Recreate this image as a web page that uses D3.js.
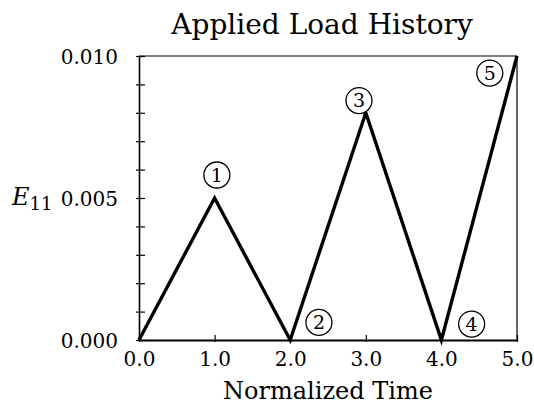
<!DOCTYPE html>
<html>
<head>
<meta charset="utf-8">
<script src="https://cdn.jsdelivr.net/npm/d3@7"></script>
<style>
  body { margin: 0; background: #fff; }
  svg text { font-family: "DejaVu Serif", "Liberation Serif", serif; fill: #000; }
</style>
</head>
<body>
<div id="chart"></div>
<script>
// load history data
const timeValues = [0, 1, 2, 3, 4, 5];
const strainValues = [0, 0.005, 0, 0.008, 0, 0.010];
const xTickValues = [0, 1, 2, 3, 4, 5];
const yTickValues = [0, 0.001, 0.002, 0.003, 0.004, 0.005, 0.006, 0.007, 0.008, 0.009, 0.010];
const yLabelValues = [0, 0.005, 0.010];
const markerNames = ["1", "2", "3", "4", "5"];
const markerTimes = [1.03, 2.38, 2.91, 4.40, 4.64];
const markerStrains = [0.00581, 0.00062, 0.00843, 0.00056, 0.0094];

const W = 534, H = 407;
const margin = { top: 56, right: 17, bottom: 67, left: 139 };
const width = W - margin.left - margin.right;
const height = H - margin.top - margin.bottom;

const svg = d3.select("#chart").append("svg")
  .attr("width", W).attr("height", H);
const g = svg.append("g")
  .attr("transform", `translate(${margin.left},${margin.top})`);

const x = d3.scaleLinear().domain([0, 5]).range([0, width]);
const y = d3.scaleLinear().domain([0, 0.010]).range([height, 0]);

// frame (top and right)
g.append("line").attr("x1", 0).attr("x2", width).attr("y1", 0).attr("y2", 0)
  .attr("stroke", "#000").attr("stroke-width", 1.2);
g.append("line").attr("x1", width).attr("x2", width).attr("y1", 0).attr("y2", height)
  .attr("stroke", "#000").attr("stroke-width", 1.2);

// y axis
const yAxis = g.append("g")
  .call(d3.axisLeft(y).tickValues(yTickValues).tickSize(0)
    .tickFormat(d => yLabelValues.some(v => Math.abs(v - d) < 1e-9) ? d3.format(".3f")(d) : ""));
yAxis.select(".domain").attr("stroke-width", 1.6);
yAxis.selectAll(".tick line").attr("x1", -3).attr("x2", 6).attr("stroke-width", 1.2);
yAxis.selectAll(".tick text").attr("x", -21).attr("dy", "0.36em")
  .style("font-size", "20px");

// x axis
const xAxis = g.append("g")
  .attr("transform", `translate(0,${height})`)
  .call(d3.axisBottom(x).tickValues(xTickValues).tickSize(0)
    .tickFormat(d3.format(".1f")));
xAxis.select(".domain").attr("stroke-width", 2);
xAxis.selectAll(".tick line").attr("y1", 2).attr("y2", -5).attr("stroke-width", 1.2);
xAxis.selectAll(".tick text").attr("y", 12).attr("dy", "0.71em")
  .style("font-size", "20px");

// load path
const pts = timeValues.map((t, i) => [t, strainValues[i]]);
g.append("path")
  .datum(pts)
  .attr("fill", "none")
  .attr("stroke", "#000")
  .attr("stroke-width", 3.4)
  .attr("stroke-linejoin", "miter")
  .attr("d", d3.line().x(d => x(d[0])).y(d => y(d[1])));

// numbered markers
const markers = g.selectAll(".marker")
  .data(markerNames.map((n, i) => ({ n, t: markerTimes[i], e: markerStrains[i] })))
  .join("g")
  .attr("class", "marker")
  .attr("transform", d => `translate(${x(d.t)},${y(d.e)})`);
markers.append("circle").attr("r", 13)
  .attr("fill", "#fff").attr("stroke", "#000").attr("stroke-width", 1.3);
markers.append("text").attr("text-anchor", "middle").attr("dy", "0.36em")
  .style("font-size", "19px").text(d => d.n);

// titles
svg.append("text")
  .attr("x", margin.left + width / 2 - 6).attr("y", 34)
  .attr("text-anchor", "middle").style("font-size", "28px")
  .text("Applied Load History");

svg.append("text")
  .attr("x", margin.left + width / 2).attr("y", 399)
  .attr("text-anchor", "middle").style("font-size", "24px")
  .text("Normalized Time");

const yl = svg.append("text").attr("x", 12).attr("y", 205).style("font-size", "24px");
yl.append("tspan").style("font-style", "italic").text("E");
yl.append("tspan").attr("dy", 5).style("font-size", "18px").text("11");
</script>
</body>
</html>
